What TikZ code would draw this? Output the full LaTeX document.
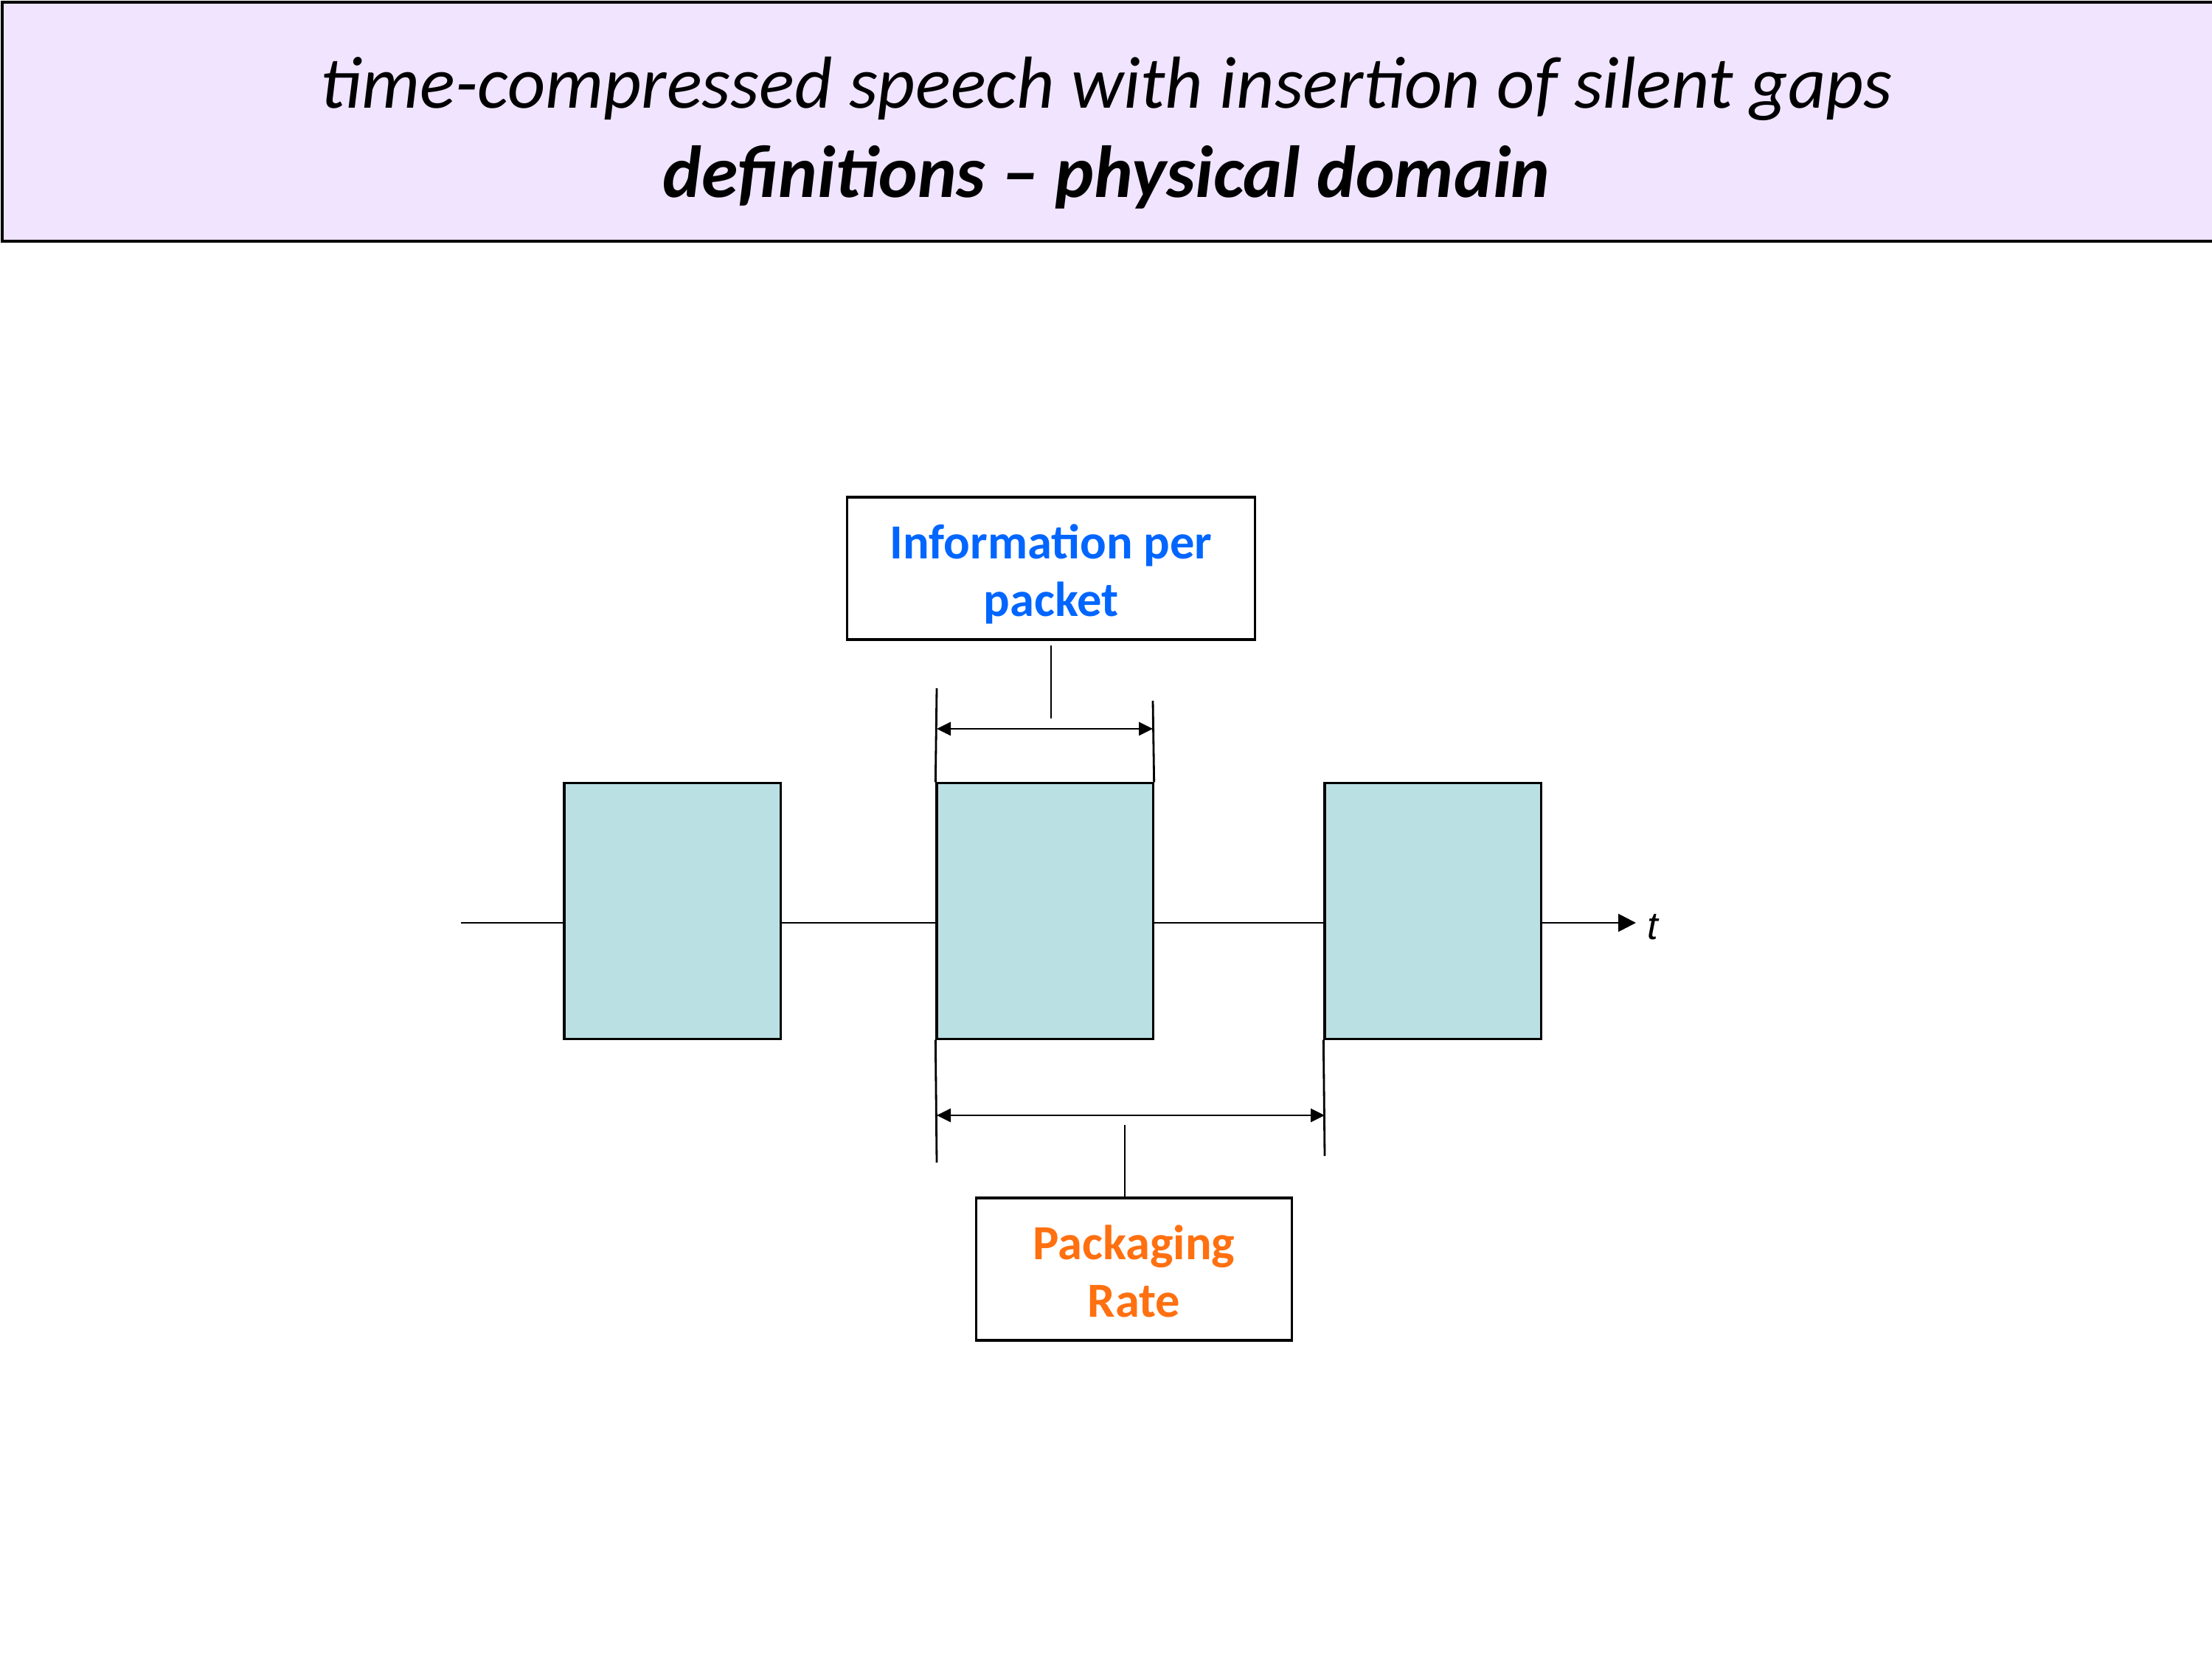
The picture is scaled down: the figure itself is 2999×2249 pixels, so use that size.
\documentclass[tikz,border=0pt]{standalone}
\usepackage{fontspec}
\setmainfont{Carlito}
\newfontfamily\arialfont{Liberation Sans}
\usetikzlibrary{arrows.meta}
\definecolor{bannerfill}{RGB}{240,228,255}
\definecolor{pktfill}{RGB}{187,224,227}
\definecolor{infoblue}{RGB}{0,102,255}
\definecolor{rateorange}{RGB}{255,112,16}
\newcommand{\twolines}[2]{\raisebox{-7.2pt}[0pt][0pt]{\begin{tabular}{@{}c@{}}#1\\#2\end{tabular}}}
\begin{document}
\begin{tikzpicture}[x=0.01cm,y=-0.01cm,
  packet/.style={draw, line width=0.9pt, fill=pktfill, minimum width=2.93cm, minimum height=3.46cm, inner sep=0pt},
  labelbox/.style={draw, line width=0.9pt, fill=white, minimum height=1.93cm, inner sep=0pt, font=\fontsize{18.9}{22.3}\selectfont\bfseries},
  thinline/.style={line width=0.8pt},
  dimarrow/.style={line width=0.8pt, {Triangle[length=0.19cm,width=0.18cm]}-{Triangle[length=0.19cm,width=0.18cm]}},
  axisarrow/.style={line width=0.8pt, -{Triangle[length=0.24cm,width=0.24cm]}},
  titlefont/.style={font=\fontsize{28.4}{34}\selectfont}
]
\useasboundingbox (0,0) rectangle (2999,2249);
\node[draw, line width=1pt, fill=bannerfill, minimum width=29.97cm, minimum height=3.24cm, inner sep=0pt, anchor=north west] (banner) at (1,1) {};
\node[titlefont, anchor=base] (title1) at (1500,147) {\itshape time-compressed speech with insertion of silent gaps};
\node[titlefont, anchor=base] (title2) at (1500,268) {\bfseries\itshape definitions – physical domain};

\node[packet] (p1) at (911.5,1235) {};
\node[packet] (p2) at (1416.5,1235) {};
\node[packet] (p3) at (1942.5,1235) {};

\coordinate (a0) at (625,1251);
\coordinate (tip) at (2218,1251);
\draw[thinline] (a0) -- (a0 -| p1.west);
\draw[thinline] (a0 -| p1.east) -- (a0 -| p2.west);
\draw[thinline] (a0 -| p2.east) -- (a0 -| p3.west);
\draw[axisarrow] (a0 -| p3.east) -- (tip);
\node[anchor=base west, inner sep=0pt, font=\arialfont\itshape\fontsize{15}{18}\selectfont] (tlabel) at (2233,1273) {t};

\coordinate (e1t) at (1270,933);
\coordinate (e2t) at (1563,950);
\coordinate (e1b) at (1270,1576);
\coordinate (e3b) at (1796,1567);
\draw[thinline] (e1t) -- (p2.north west);
\draw[thinline] (e2t) -- (p2.north east);
\draw[thinline] (p2.south west) -- (e1b);
\draw[thinline] (p3.south west) -- (e3b);

\coordinate (d1l) at (1270,988);
\coordinate (d1r) at (1563,988);
\coordinate (d2l) at (1270,1512);
\coordinate (d2r) at (1796,1512);
\draw[dimarrow] (d1l) -- (d1r);
\draw[dimarrow] (d2l) -- (d2r);

\node[labelbox, text=infoblue, minimum width=5.52cm] (info) at (1425,770.5) {\twolines{Information per}{packet}};
\coordinate (l1a) at (1425,875);
\coordinate (l1b) at (1425,974);
\draw[thinline] (l1a) -- (l1b);

\node[labelbox, text=rateorange, minimum width=4.27cm] (rate) at (1537.5,1720.5) {\twolines{Packaging}{Rate}};
\coordinate (l2a) at (1525,1525);
\draw[thinline] (l2a) -- (l2a |- rate.north);
\end{tikzpicture}
\end{document}
